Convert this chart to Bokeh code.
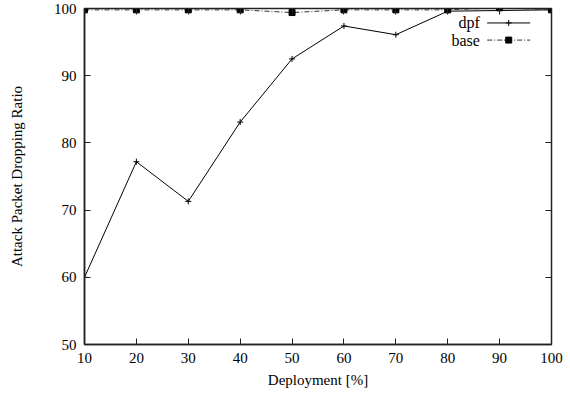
from bokeh.plotting import figure
from bokeh.models import LinearAxis, FixedTicker, Range1d, Label
from bokeh.embed import file_html
from bokeh.resources import INLINE

deployment = [10, 20, 30, 40, 50, 60, 70, 80, 90, 100]
dpf = [60.0, 77.2, 71.3, 83.1, 92.5, 97.4, 96.1, 99.6, 99.7, 99.8]
base = [99.8, 99.8, 99.8, 99.8, 99.4, 99.8, 99.8, 99.8, 100.1, 99.8]
x_ticks = [10, 20, 30, 40, 50, 60, 70, 80, 90, 100]
y_ticks = [50, 60, 70, 80, 90, 100]

FONT = "Liberation Serif"
FS = "15px"

p = figure(width=570, height=398, output_backend="svg", toolbar_location=None,
           x_range=Range1d(10, 100), y_range=Range1d(50, 100),
           x_axis_label="Deployment [%]", y_axis_label="Attack Packet Dropping Ratio",
           min_border_left=84, min_border_right=19, min_border_top=8, min_border_bottom=54)
p.xgrid.visible = False
p.ygrid.visible = False
p.outline_line_color = "#222222"
p.outline_line_width = 1.5
p.background_fill_color = "white"
p.border_fill_color = "white"

for ax, ticks in ((p.xaxis[0], x_ticks), (p.yaxis[0], y_ticks)):
    ax.ticker = FixedTicker(ticks=ticks)
    ax.minor_tick_line_color = None
    ax.major_tick_in = 6
    ax.major_tick_out = 0
    ax.major_tick_line_color = "#222222"
    ax.axis_line_color = "#222222"
    ax.axis_line_width = 1.5
    ax.major_label_text_font = FONT
    ax.major_label_text_font_size = FS
    ax.major_label_text_color = "black"
    ax.axis_label_text_font = FONT
    ax.axis_label_text_font_size = FS
    ax.axis_label_text_font_style = "normal"
    ax.axis_label_text_color = "black"
    ax.major_label_standoff = 8

p.xaxis[0].axis_label_standoff = 6
p.yaxis[0].axis_label_standoff = 26

# mirrored ticks
top = LinearAxis(ticker=FixedTicker(ticks=x_ticks), major_tick_in=6, major_tick_out=0,
                 minor_tick_line_color=None, axis_line_color="#222222",
                 major_tick_line_color="#222222",
                 major_label_overrides={t: "" for t in x_ticks},
                 major_label_standoff=0, major_label_text_font_size="0px")
right = LinearAxis(ticker=FixedTicker(ticks=y_ticks), major_tick_in=6, major_tick_out=0,
                   minor_tick_line_color=None, axis_line_color="#222222",
                   major_tick_line_color="#222222",
                   major_label_overrides={t: "" for t in y_ticks},
                   major_label_standoff=0, major_label_text_font_size="0px")
p.add_layout(top, "above")
p.add_layout(right, "right")

# series
p.line(deployment, dpf, line_color="black", line_width=1)
p.scatter(deployment, dpf, marker="cross", size=6, line_color="black", line_width=1)
p.line(deployment, base, line_color="#333333", line_width=1, line_dash="5 2 1 2")
p.scatter(deployment, base, marker="square", size=6, fill_color="black", line_color="black")

# legend (gnuplot style: label left of sample)
lx0, lx1, lxm = 87.6, 95.9, 91.75
ly_dpf, ly_base = 97.85, 95.3
p.line([lx0, lx1], [ly_dpf, ly_dpf], line_color="black", line_width=1)
p.scatter([lxm], [ly_dpf], marker="cross", size=6, line_color="black")
p.line([lx0, lx1], [ly_base, ly_base], line_color="#333333", line_width=1, line_dash="5 2 1 2")
p.scatter([lxm], [ly_base], marker="square", size=6, fill_color="black", line_color="black")
for txt, yy in (("dpf", ly_dpf), ("base", ly_base)):
    p.add_layout(Label(x=86.2, y=yy, text=txt, text_align="right", text_baseline="middle",
                       text_font=FONT, text_font_size="16px", text_color="black"))

open("out.html", "w").write(file_html(p, INLINE))
